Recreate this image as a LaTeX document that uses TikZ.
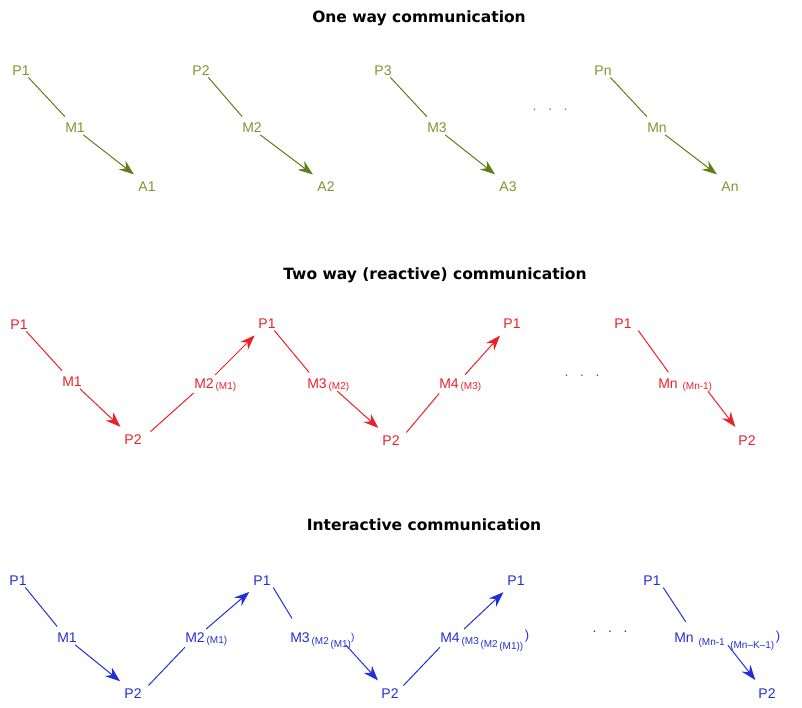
\documentclass[tikz,border=0pt]{standalone}
\usepackage{fontspec}
\setmainfont{Liberation Sans}
\newfontfamily\headfont{DejaVu Sans}
\usetikzlibrary{arrows.meta}

\definecolor{oliveln}{RGB}{96,126,24}
\definecolor{olivetx}{RGB}{128,148,48}
\definecolor{redcol}{RGB}{236,32,42}
\definecolor{bluecol}{RGB}{36,46,214}

% lowered small text for message indices
\newcommand\lowtxt[2]{\raisebox{-#1}{\fontsize{10}{10}\selectfont #2}}

\tikzset{
  lbl/.style={inner sep=1.5pt, text height=10pt, text depth=0pt,
              font=\fontsize{14}{16}\selectfont},
  idx/.style={inner sep=0pt, anchor=west, yshift=-4pt,
              font=\fontsize{10}{10}\selectfont},
  head/.style={font=\headfont\bfseries\fontsize{15.5}{17}\selectfont, text=black},
  dots/.style={font=\fontsize{14}{16}\selectfont},
  ln/.style={line width=1pt, shorten <=1pt, shorten >=5pt},
  arr/.style={line width=1pt, shorten <=2pt, shorten >=8pt,
              -{Stealth[length=15pt,width=11pt,inset=5pt]}},
}

\begin{document}
\begin{tikzpicture}[x=1pt,y=-1pt]
\useasboundingbox (0,0) rectangle (802,707);

% ---------- one way communication ----------
\node[head] (t1) at (419,18) {One way communication};
\begin{scope}[every node/.append style={text=olivetx}, oliveln]
  \node[lbl] (ap1) at (21,70)  {P1};
  \node[lbl] (am1) at (75,127) {M1};
  \node[lbl] (aa1) at (147,186){A1};
  \node[lbl] (ap2) at (201,70) {P2};
  \node[lbl] (am2) at (252,127){M2};
  \node[lbl] (aa2) at (326,186){A2};
  \node[lbl] (ap3) at (383,70) {P3};
  \node[lbl] (am3) at (437,127){M3};
  \node[lbl] (aa3) at (508,186){A3};
  \node[dots] (ad) at (550,110){.\ \ \ .\ \ \ .};
  \node[lbl] (apn) at (603,70) {Pn};
  \node[lbl] (amn) at (657,127){Mn};
  \node[lbl] (aan) at (730,186){An};
  \foreach \k in {1,2,3,n}{
    \draw[ln]  (ap\k.-45) -- (am\k.135);
    \draw[arr] (am\k.-45) -- (aa\k.135);
  }
\end{scope}

% ---------- two way (reactive) communication ----------
\node[head] (t2) at (435,275) {Two way (reactive) communication};
\begin{scope}[every node/.append style={text=redcol}, redcol]
  \node[lbl] (bp1) at (19,324)  {P1};
  \node[lbl] (bm1) at (72,381)  {M1};
  \node[lbl] (bp2) at (133,439) {P2};
  \node[lbl, label={[idx]east:(M1)}] (bm2) at (204,383) {M2};
  \node[lbl] (bp3) at (267,323) {P1};
  \node[lbl, label={[idx]east:(M2)}] (bm3) at (317,383) {M3};
  \node[lbl] (bp4) at (391,440) {P2};
  \node[lbl, label={[idx]east:(M3)}] (bm4) at (449,383) {M4};
  \node[lbl] (bp5) at (512,323) {P1};
  \node[dots] (bd) at (582,376) {.\ \ \ .\ \ \ .};
  \node[lbl] (bp6) at (623,323) {P1};
  \node[lbl, label={[idx, xshift=3pt]east:(Mn-1)}] (bmn) at (668,383) {Mn};
  \node[lbl] (bp7) at (747,440) {P2};

  \draw[ln]  (bp1.-45) -- (bm1.135);
  \draw[arr] (bm1.-45) -- (bp2.135);
  \draw[ln]  ([xshift=10pt]bp2.45) -- (bm2.-135);
  \draw[arr] ([xshift=3pt]bm2.45) -- (bp3.-135);
  \draw[ln]  (bp3.-45) -- ([xshift=2pt]bm3.135);
  \draw[arr] ([xshift=12pt]bm3.-45) -- (bp4.135);
  \draw[ln]  ([xshift=8pt]bp4.45) -- (bm4.-135);
  \draw[arr] ([xshift=8pt]bm4.45) -- (bp5.-135);
  \draw[ln]  ([xshift=8pt]bp6.-45) -- ([xshift=10pt]bmn.135);
  \draw[arr] ([xshift=32pt]bmn.-45) -- (bp7.135);
\end{scope}

% ---------- interactive communication ----------
\node[head] (t3) at (424,525) {Interactive communication};
\begin{scope}[every node/.append style={text=bluecol}, bluecol]
  \node[lbl] (cp1) at (18,580)  {P1};
  \node[lbl] (cm1) at (67,637)  {M1};
  \node[lbl] (cp2) at (133,693) {P2};
  \node[lbl, label={[idx]east:(M1)}] (cm2) at (195,637) {M2};
  \node[lbl] (cp3) at (262,580) {P1};
  \node[lbl, label={[idx]east:{(M2\,\lowtxt{3pt}{(M1)}\raisebox{4pt}{)}}}] (cm3) at (300,637) {M3};
  \node[lbl] (cp4) at (390,693) {P2};
  \node[lbl, label={[idx]east:{(M3\,\lowtxt{3pt}{(M2\,\lowtxt{2pt}{(M1))}}\,\raisebox{5pt}{\fontsize{13}{13}\selectfont)}}}] (cm4) at (450,637) {M4};
  \node[lbl] (cp5) at (516,580) {P1};
  \node[dots] (cd) at (610,632) {.\ \ \ .\ \ \ .};
  \node[lbl] (cp6) at (652,580) {P1};
  \node[lbl, label={[idx, xshift=3pt]east:{(Mn-1\ \ \lowtxt{3pt}{(Mn--K--1)}\,\raisebox{5pt}{\fontsize{13}{13}\selectfont)}}}] (cmn) at (684,637) {Mn};
  \node[lbl] (cp7) at (767,693) {P2};

  \draw[ln]  (cp1.-45) -- (cm1.135);
  \draw[arr] (cm1.-45) -- (cp2.135);
  \draw[ln]  ([xshift=8pt]cp2.45) -- (cm2.-135);
  \draw[arr] ([xshift=3pt]cm2.45) -- (cp3.-135);
  \draw[ln, shorten >=14pt]  ([xshift=4pt]cp3.-45) -- ([xshift=6pt]cm3.135);
  \draw[arr] ([xshift=38pt]cm3.-45) -- (cp4.135);
  \draw[ln]  ([xshift=6pt]cp4.45) -- (cm4.-135);
  \draw[arr] ([xshift=6pt]cm4.45) -- (cp5.-135);
  \draw[ln, shorten >=10pt]  ([xshift=4pt]cp6.-45) -- ([xshift=14pt]cmn.135);
  \draw[arr] ([xshift=36pt]cmn.-45) -- (cp7.135);
\end{scope}
\end{tikzpicture}
\end{document}
